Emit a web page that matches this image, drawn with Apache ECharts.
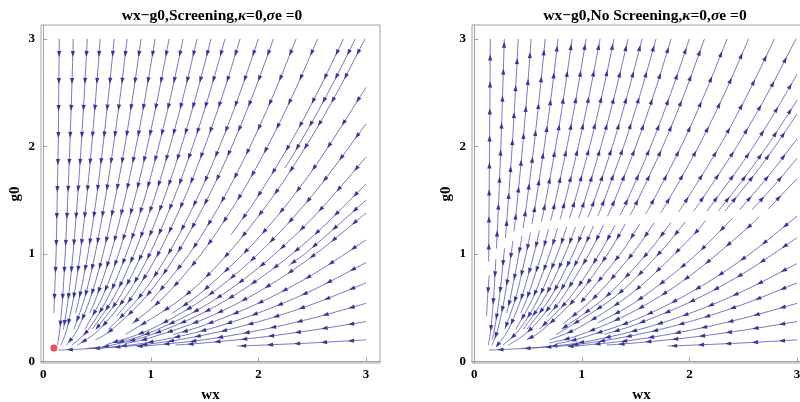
<!DOCTYPE html>
<html>
<head>
<meta charset="utf-8">
<script src="https://cdn.jsdelivr.net/npm/echarts@6/dist/echarts.min.js"></script>
<style>
html,body{margin:0;padding:0;background:#fff}
#chart{width:800px;height:402px}
</style>
</head>
<body>
<div id="chart"></div>
<script>
// streamlines as [wx, g0] points, listed in the direction of the flow
var screeningLines = [
  [[0.15,3],[0.145,2.5],[0.14,2],[0.13,1.5],[0.12,1],[0.105,0.6],[0.1,0.45]],
  [[0.28,3],[0.265,2.5],[0.248,2],[0.228,1.5],[0.205,1],[0.181,0.6],[0.155,0.3],[0.132,0.15]],
  [[0.41,3],[0.383,2.5],[0.353,2],[0.318,1.5],[0.277,1],[0.235,0.6],[0.189,0.3]],
  [[0.53,3],[0.492,2.5],[0.45,2],[0.402,1.5],[0.344,1],[0.284,0.6],[0.22,0.3],[0.165,0.15]],
  [[0.66,3],[0.61,2.5],[0.555,2],[0.492,1.5],[0.416,1],[0.338,0.6],[0.301,0.45]],
  [[0.78,3],[0.72,2.5],[0.652,2],[0.575,1.5],[0.483,1],[0.388,0.6],[0.286,0.3]],
  [[0.91,3],[0.838,2.5],[0.758,2],[0.666,1.5],[0.556,1],[0.442,0.6],[0.32,0.3],[0.215,0.15]],
  [[1.04,3],[0.956,2.5],[0.863,2],[0.756,1.5],[0.628,1],[0.496,0.6],[0.433,0.45]],
  [[1.17,3],[1.074,2.5],[0.968,2],[0.846,1.5],[0.701,1],[0.55,0.6],[0.388,0.3]],
  [[1.3,3],[1.193,2.5],[1.073,2],[0.937,1.5],[0.773,1],[0.604,0.6],[0.423,0.3],[0.266,0.15]],
  [[1.43,3],[1.311,2.5],[1.178,2],[1.027,1.5],[0.845,1],[0.658,0.6],[0.457,0.3]],
  [[1.56,3],[1.429,2.5],[1.284,2],[1.117,1.5],[0.918,1],[0.712,0.6],[0.491,0.3]],
  [[1.69,3],[1.547,2.5],[1.389,2],[1.208,1.5],[0.99,1],[0.766,0.6],[0.525,0.3],[0.317,0.15]],
  [[1.83,3],[1.675,2.5],[1.502,2],[1.305,1.5],[1.068,1],[0.824,0.6],[0.681,0.42]],
  [[2,3],[1.829,2.5],[1.64,2],[1.423,1.5],[1.163,1],[0.895,0.6],[0.606,0.3]],
  [[2.14,3],[1.957,2.5],[1.753,2],[1.52,1.5],[1.241,1],[0.953,0.6],[0.643,0.3],[0.487,0.2]],
  [[2.35,3],[2.148,2.5],[1.923,2],[1.666,1.5],[1.358,1],[1.002,0.56]],
  [[2.55,3],[2.33,2.5],[2.085,2],[1.805,1.5],[1.469,1],[1.123,0.6],[0.826,0.35]],
  [[2.79,3],[2.548,2.5],[2.279,2],[1.972,1.5],[1.746,1.18]],
  [[2.9,3],[2.648,2.5],[2.368,2],[2.246,1.8]],
  [[2.99,3],[2.73,2.5],[2.441,2],[2.111,1.5],[1.714,1],[1.306,0.6],[0.765,0.25]],
  [[3,2.55],[2.5,1.776],[2,1.148],[1.5,0.667],[1.2,0.448]],
  [[3,2.21],[2.5,1.543],[2,1.002],[1.5,0.588],[1,0.3],[0.6,0.16]],
  [[3,1.9],[2.5,1.331],[2,0.87],[1.5,0.516],[1,0.271],[0.69,0.173]],
  [[3,1.65],[2.5,1.16],[2,0.763],[1.5,0.459],[1,0.247],[0.6,0.144],[0.4,0.12]],
  [[3,1.5],[2.5,1.058],[2.28,0.89]],
  [[3,1.38],[2.5,0.976],[2,0.647],[1.5,0.396],[1,0.221],[0.76,0.165]],
  [[3,1.13],[2.5,0.805],[2,0.541],[1.5,0.338],[1.21,0.25]],
  [[3,0.92],[2.5,0.661],[2,0.451],[1.5,0.29],[1,0.18],[0.6,0.13],[0.3,0.112],[0.14,0.105]],
  [[3,0.73],[2.5,0.531],[2,0.369],[1.5,0.246],[1,0.163],[0.6,0.128],[0.44,0.122]],
  [[3,0.54],[2.5,0.401],[2,0.288],[1.5,0.202],[1,0.148],[0.87,0.14]],
  [[3,0.37],[2.5,0.29],[2,0.222],[1.5,0.172],[1.23,0.152]],
  [[3,0.2],[2.5,0.172],[2,0.15],[1.8,0.143]]
];

var noScreeningLines = [
  // above the dividing curve the flow goes up
  [[0.135,0.93],[0.139,1.5],[0.143,2],[0.147,2.5],[0.15,3]],
  [[0.207,1.05],[0.228,1.5],[0.248,2],[0.265,2.5],[0.28,3]],
  [[0.291,1.15],[0.318,1.5],[0.353,2],[0.383,2.5],[0.41,3]],
  [[0.37,1.21],[0.402,1.5],[0.45,2],[0.492,2.5],[0.53,3]],
  [[0.455,1.24],[0.492,1.5],[0.555,2],[0.61,2.5],[0.66,3]],
  [[0.537,1.28],[0.575,1.5],[0.652,2],[0.72,2.5],[0.78,3]],
  [[0.625,1.3],[0.666,1.5],[0.758,2],[0.838,2.5],[0.91,3]],
  [[0.711,1.31],[0.756,1.5],[0.863,2],[0.956,2.5],[1.04,3]],
  [[0.798,1.32],[0.846,1.5],[0.968,2],[1.074,2.5],[1.17,3]],
  [[0.885,1.33],[0.937,1.5],[1.073,2],[1.193,2.5],[1.3,3]],
  [[0.97,1.33],[1.027,1.5],[1.178,2],[1.311,2.5],[1.43,3]],
  [[1.058,1.34],[1.117,1.5],[1.284,2],[1.429,2.5],[1.56,3]],
  [[1.147,1.35],[1.208,1.5],[1.389,2],[1.547,2.5],[1.69,3]],
  [[1.239,1.35],[1.305,1.5],[1.502,2],[1.675,2.5],[1.83,3]],
  [[1.356,1.36],[1.423,1.5],[1.64,2],[1.829,2.5],[2,3]],
  [[1.448,1.36],[1.52,1.5],[1.753,2],[1.957,2.5],[2.14,3]],
  [[1.592,1.37],[1.666,1.5],[1.923,2],[2.148,2.5],[2.35,3]],
  [[1.731,1.38],[1.805,1.5],[2.085,2],[2.33,2.5],[2.55,3]],
  [[1.898,1.39],[1.972,1.5],[2.279,2],[2.548,2.5],[2.79,3]],
  [[2.038,1.4],[2.111,1.5],[2.441,2],[2.73,2.5],[2.99,3]],
  [[2.165,1.4],[2.5,1.858],[2.75,2.245],[3,2.67]],
  [[2.269,1.4],[2.5,1.694],[2.75,2.044],[3,2.43]],
  [[2.332,1.4],[2.6,1.733],[2.8,2.006],[3,2.3]],
  [[2.467,1.41],[2.75,1.744],[3,2.07]],
  [[2.582,1.41],[2.8,1.651],[3,1.89]],
  [[2.735,1.42],[3,1.7]],
  // below it the flow goes down to the lower left
  [[0.14,0.8],[0.125,0.6],[0.115,0.42]],
  [[0.202,0.95],[0.181,0.6],[0.155,0.3],[0.132,0.15]],
  [[0.282,1.05],[0.277,1],[0.235,0.6],[0.189,0.3],[0.166,0.2]],
  [[0.359,1.12],[0.344,1],[0.284,0.6],[0.22,0.3],[0.165,0.15]],
  [[0.444,1.17],[0.416,1],[0.338,0.6],[0.301,0.45]],
  [[0.523,1.2],[0.483,1],[0.388,0.6],[0.286,0.3]],
  [[0.607,1.22],[0.556,1],[0.442,0.6],[0.32,0.3],[0.215,0.15]],
  [[0.691,1.23],[0.628,1],[0.496,0.6],[0.433,0.45]],
  [[0.775,1.24],[0.701,1],[0.55,0.6],[0.388,0.3]],
  [[0.859,1.25],[0.773,1],[0.604,0.6],[0.423,0.3],[0.266,0.15]],
  [[0.941,1.25],[0.845,1],[0.658,0.6],[0.457,0.3]],
  [[1.027,1.26],[0.918,1],[0.712,0.6],[0.491,0.3]],
  [[1.109,1.26],[0.99,1],[0.766,0.6],[0.525,0.3],[0.317,0.15]],
  [[1.203,1.27],[1.068,1],[0.824,0.6],[0.681,0.42]],
  [[1.31,1.27],[1.163,1],[0.895,0.6],[0.606,0.3]],
  [[1.405,1.28],[1.241,1],[0.953,0.6],[0.643,0.3],[0.487,0.2]],
  [[1.539,1.28],[1.358,1],[1.002,0.56]],
  [[1.673,1.29],[1.469,1],[1.123,0.6],[0.826,0.35]],
  [[1.827,1.29],[1.603,1],[1.223,0.6],[0.814,0.3]],
  [[1.963,1.3],[1.714,1],[1.306,0.6],[0.765,0.25]],
  [[2.15,1.31],[2,1.138],[1.5,0.662],[1,0.33],[0.7,0.2]],
  [[2.4,1.33],[2,0.938],[1.5,0.553],[1.15,0.36]],
  [[2.65,1.35],[2.5,1.207],[2,0.792],[1.5,0.474],[1,0.253],[0.7,0.17]],
  [[3,1.35],[2.5,0.955],[2,0.635],[1.5,0.389],[1,0.219],[0.76,0.163]],
  [[3,1.15],[2.5,0.818],[2,0.549],[1.5,0.343],[1.21,0.252]],
  [[3,0.91],[2.5,0.654],[2,0.446],[1.5,0.287],[1,0.177],[0.6,0.13],[0.3,0.112],[0.14,0.105]],
  [[3,0.73],[2.5,0.531],[2,0.369],[1.5,0.246],[1,0.163],[0.6,0.128],[0.44,0.122]],
  [[3,0.54],[2.5,0.401],[2,0.288],[1.5,0.202],[1,0.148],[0.87,0.14]],
  [[3,0.37],[2.5,0.29],[2,0.222],[1.5,0.172],[1.23,0.152]],
  [[3,0.2],[2.5,0.172],[2,0.15],[1.8,0.143]]
];

var steadyState = [[0.1, 0.125]];
var tickValues = [0, 1, 2, 3];
var titles = ['wx\u2212g0,Screening,{i|\u03ba}=0,{i|\u03c3}e =0', 'wx\u2212g0,No Screening,{i|\u03ba}=0,{i|\u03c3}e =0'];

var lineColor = '#5454aa';
var arrowColor = '#38389a';
var serif = '"Liberation Serif", "DejaVu Serif", serif';

// smooth the polyline through the (already projected) points
function spline(pts) {
  if (pts.length < 3) return pts;
  var out = [pts[0]];
  for (var i = 0; i < pts.length - 1; i++) {
    var p0 = pts[Math.max(i - 1, 0)], p1 = pts[i], p2 = pts[i + 1], p3 = pts[Math.min(i + 2, pts.length - 1)];
    for (var k = 1; k <= 12; k++) {
      var t = k / 12, t2 = t * t, t3 = t2 * t;
      var q = [];
      for (var d = 0; d < 2; d++) {
        q.push(0.5 * (2 * p1[d] + (p2[d] - p0[d]) * t + (2 * p0[d] - 5 * p1[d] + 4 * p2[d] - p3[d]) * t2 + (3 * p1[d] - p0[d] - 3 * p2[d] + p3[d]) * t3));
      }
      out.push(q);
    }
  }
  return out;
}

function drawStream(lines) {
  return function (params, api) {
    var pts = lines[params.dataIndex].map(function (p) { return api.coord(p); });
    var path = spline(pts);
    var kids = [{
      type: 'polyline', silent: true,
      shape: { points: path },
      style: { stroke: lineColor, lineWidth: 0.8, fill: null }
    }];
    // arrowheads every 27px along the line
    var next = 15, run = 0;
    for (var i = 1; i < path.length; i++) {
      var dx = path[i][0] - path[i - 1][0], dy = path[i][1] - path[i - 1][1];
      var len = Math.sqrt(dx * dx + dy * dy);
      while (len > 0 && run + len >= next) {
        var t = (next - run) / len;
        var cx = path[i - 1][0] + dx * t, cy = path[i - 1][1] + dy * t;
        var ux = dx / len, uy = dy / len;
        kids.push({
          type: 'polygon', silent: true,
          shape: { points: [
            [cx + ux * 3.2, cy + uy * 3.2],
            [cx - ux * 3 - uy * 2.1, cy - uy * 3 + ux * 2.1],
            [cx - ux * 3 + uy * 2.1, cy - uy * 3 - ux * 2.1]
          ] },
          style: { fill: arrowColor }
        });
        next += 27;
      }
      run += len;
    }
    return { type: 'group', children: kids };
  };
}

function xAxisFor(idx) {
  return {
    gridIndex: idx, type: 'value', min: -0.02, max: 3.13,
    name: 'wx', nameLocation: 'middle', nameGap: 25,
    nameTextStyle: { fontFamily: serif, fontWeight: 'bold', fontSize: 15, color: '#000' },
    axisLine: { lineStyle: { color: '#a0a0a0' } },
    axisTick: { inside: true, length: 4, customValues: tickValues, lineStyle: { color: '#a0a0a0' } },
    axisLabel: { customValues: tickValues, margin: 5, fontFamily: serif, fontWeight: 'bold', fontSize: 13, color: '#000' },
    splitLine: { show: false }
  };
}

function yAxisFor(idx) {
  return {
    gridIndex: idx, type: 'value', min: -0.015, max: 3.13,
    name: 'g0', nameLocation: 'middle', nameGap: 18,
    nameTextStyle: { fontFamily: serif, fontWeight: 'bold', fontSize: 15, color: '#000' },
    axisLine: { lineStyle: { color: '#a0a0a0' } },
    axisTick: { inside: true, length: 4, customValues: tickValues, lineStyle: { color: '#a0a0a0' } },
    axisLabel: { customValues: tickValues, margin: 6, fontFamily: serif, fontWeight: 'bold', fontSize: 13, color: '#000' },
    splitLine: { show: false }
  };
}

function titleFor(text, x) {
  return {
    text: text, left: x, top: 3, textAlign: 'center',
    textStyle: {
      fontFamily: serif, fontWeight: 'bold', fontSize: 15.5, color: '#000',
      rich: { i: { fontFamily: serif, fontWeight: 'bold', fontStyle: 'italic', fontSize: 15.5, color: '#000' } }
    }
  };
}

var chart = echarts.init(document.getElementById('chart'));
chart.setOption({
  animation: false,
  backgroundColor: '#fff',
  title: [titleFor(titles[0], 207), titleFor(titles[1], 640)],
  grid: [
    { left: 41, top: 25, width: 339, height: 338, outerBoundsMode: 'none', containLabel: false,
      show: true, borderColor: '#a0a0a0', borderWidth: 1 },
    { left: 472, top: 25, width: 339, height: 338, outerBoundsMode: 'none', containLabel: false,
      show: true, borderColor: '#a0a0a0', borderWidth: 1 }
  ],
  xAxis: [xAxisFor(0), xAxisFor(1)],
  yAxis: [yAxisFor(0), yAxisFor(1)],
  series: [
    {
      type: 'custom', xAxisIndex: 0, yAxisIndex: 0, clip: true,
      data: screeningLines.map(function (l) { return l[0]; }),
      renderItem: drawStream(screeningLines)
    },
    {
      type: 'custom', xAxisIndex: 1, yAxisIndex: 1, clip: true,
      data: noScreeningLines.map(function (l) { return l[0]; }),
      renderItem: drawStream(noScreeningLines)
    },
    {
      type: 'scatter', xAxisIndex: 0, yAxisIndex: 0, z: 5,
      data: steadyState, symbolSize: 7,
      itemStyle: { color: '#e8202a' }
    }
  ]
});
</script>
</body>
</html>
